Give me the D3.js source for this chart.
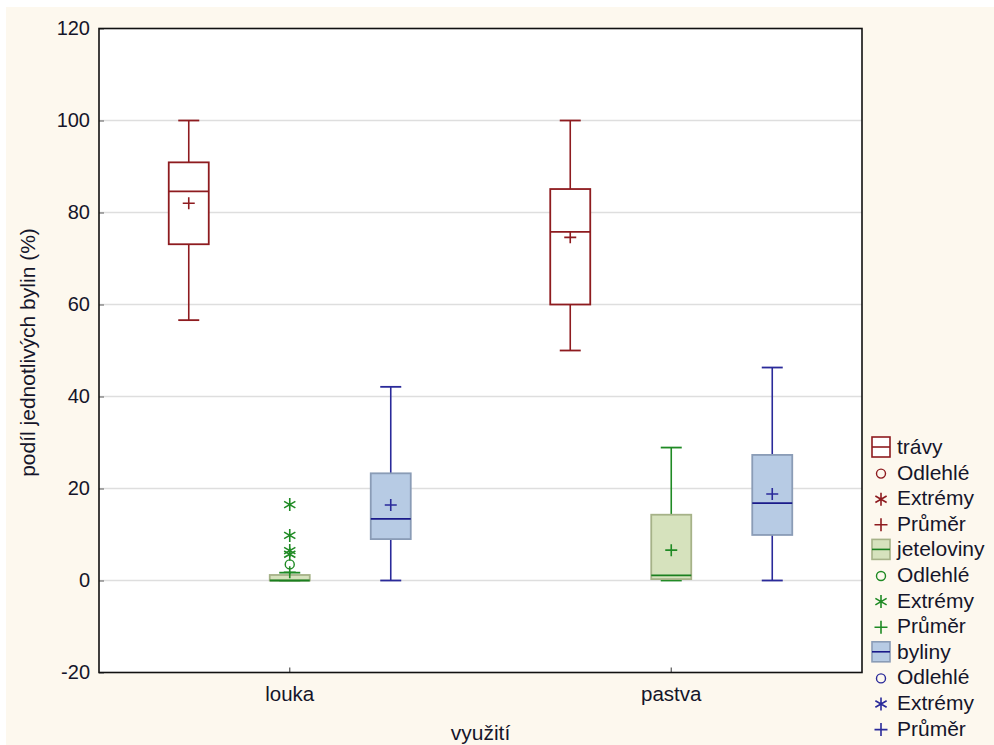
<!DOCTYPE html>
<html>
<head>
<meta charset="utf-8">
<script src="https://cdn.jsdelivr.net/npm/d3@7"></script>
<style>
  html, body { margin: 0; padding: 0; background: #ffffff; }
  svg { display: block; }
  text { font-family: "Liberation Sans", Arial, sans-serif; fill: #15152a; }
</style>
</head>
<body>
<svg id="chart" width="994" height="745"></svg>
<script>
// Land use categories and plant groups
const categories = ["louka", "pastva"];
const series = ["trávy", "jeteloviny", "byliny"];

// Box statistics, one row per plant group, one value per category (louka, pastva)
const whiskerLow  = [[56.6, 50.0], [0.0, 0.0], [0.0, 0.0]];
const quartile1   = [[73.1, 60.0], [0.0, 0.3], [9.0, 9.9]];
const medians     = [[84.6, 75.8], [0.0, 1.1], [13.4, 16.8]];
const quartile3   = [[90.9, 85.1], [1.2, 14.3], [23.3, 27.3]];
const whiskerHigh = [[100.0, 100.0], [1.7, 28.9], [42.1, 46.3]];
const means       = [[82.0, 74.6], [1.8, 6.6], [16.4, 18.8]];
const outliers    = [[[], []], [[3.5], []], [[], []]];
const extremes    = [[[], []], [[16.5, 9.8, 6.5, 5.7], []], [[], []]];

const yTicks = [-20, 0, 20, 40, 60, 80, 100, 120];
const legendLabels = ["Odlehlé", "Extrémy", "Průměr"];
const xTitle = "využití";
const yTitle = "podíl jednotlivých bylin (%)";

// Colours per plant group
const lineColor   = ["#8e1b1f", "#1f8a24", "#2a2a9a"];
const medianColor = ["#8e1b1f", "#1a7f1f", "#1a1a8a"];
const boxFill     = ["#ffffff", "#d6e2bd", "#b7cbe4"];
const boxStroke   = ["#8e1b1f", "#a6b288", "#8a9cb6"];

const svg = d3.select("#chart");
const W = 994, H = 745;
const plot = { left: 99, top: 28.5, right: 862, bottom: 672.5 };

// Page background
svg.append("rect").attr("width", W).attr("height", H).attr("fill", "#ffffff");
svg.append("rect").attr("x", 6).attr("y", 7).attr("width", W - 6).attr("height", H - 7).attr("fill", "#fdf8ee");
svg.append("rect").attr("x", plot.left).attr("y", plot.top)
  .attr("width", plot.right - plot.left).attr("height", plot.bottom - plot.top)
  .attr("fill", "#ffffff");

const y = d3.scaleLinear().domain([-20, 120]).range([plot.bottom, plot.top]);
const x = d3.scaleBand().domain(categories).range([plot.left, plot.right]).padding(0);
const bw = x.bandwidth();
const xs = d3.scalePoint().domain(series).range([bw / 2 - 101, bw / 2 + 101]);

// Horizontal grid
svg.append("g").selectAll("line")
  .data(yTicks.filter(t => t > -20 && t < 120))
  .join("line")
  .attr("x1", plot.left).attr("x2", plot.right)
  .attr("y1", d => y(d)).attr("y2", d => y(d))
  .attr("stroke", "#dedede").attr("stroke-width", 1.5);

// Y axis
const yAxis = svg.append("g").attr("transform", `translate(${plot.left},0)`)
  .call(d3.axisLeft(y).tickValues(yTicks).tickSize(-5).tickPadding(9).tickFormat(d => String(d)));
yAxis.select(".domain").remove();
yAxis.selectAll(".tick line").attr("stroke", "#777").attr("stroke-width", 1.2);
yAxis.selectAll(".tick text").style("font-size", "20px").attr("fill", "#15152a")
  .style("font-family", "'Liberation Sans', Arial, sans-serif");

// X axis
const xAxis = svg.append("g").attr("transform", `translate(0,${plot.bottom})`)
  .call(d3.axisBottom(x).tickSize(-5).tickPadding(14));
xAxis.select(".domain").remove();
xAxis.selectAll(".tick line").attr("stroke", "#555").attr("stroke-width", 1.2);
xAxis.selectAll(".tick text").style("font-size", "20.5px").attr("fill", "#15152a")
  .style("font-family", "'Liberation Sans', Arial, sans-serif");

// Frame
svg.append("rect").attr("x", plot.left).attr("y", plot.top)
  .attr("width", plot.right - plot.left).attr("height", plot.bottom - plot.top)
  .attr("fill", "none").attr("stroke", "#111").attr("stroke-width", 1.6);

// Symbol builders
function plusPath(cx, cy, r) {
  return `M${cx - r},${cy}H${cx + r}M${cx},${cy - r}V${cy + r}`;
}
function starPath(cx, cy, r) {
  const a = r * Math.cos(Math.PI / 6), b = r * Math.sin(Math.PI / 6);
  return `M${cx},${cy - r}V${cy + r}M${cx - a},${cy - b}L${cx + a},${cy + b}M${cx - a},${cy + b}L${cx + a},${cy - b}`;
}

// Box plots
const boxW = 40, capW = 21;
series.forEach((s, si) => {
  categories.forEach((c, ci) => {
    const cx = x(c) + xs(s);
    const g = svg.append("g");
    const col = lineColor[si];
    // whiskers
    g.append("line").attr("x1", cx).attr("x2", cx)
      .attr("y1", y(whiskerHigh[si][ci])).attr("y2", y(quartile3[si][ci]))
      .attr("stroke", col).attr("stroke-width", 1.6);
    g.append("line").attr("x1", cx).attr("x2", cx)
      .attr("y1", y(quartile1[si][ci])).attr("y2", y(whiskerLow[si][ci]))
      .attr("stroke", col).attr("stroke-width", 1.6);
    [whiskerHigh[si][ci], whiskerLow[si][ci]].forEach(v => {
      g.append("line").attr("x1", cx - capW / 2).attr("x2", cx + capW / 2)
        .attr("y1", y(v)).attr("y2", y(v))
        .attr("stroke", col).attr("stroke-width", 1.8);
    });
    // box
    g.append("rect").attr("x", cx - boxW / 2).attr("y", y(quartile3[si][ci]))
      .attr("width", boxW).attr("height", Math.max(1, y(quartile1[si][ci]) - y(quartile3[si][ci])))
      .attr("fill", boxFill[si]).attr("stroke", boxStroke[si]).attr("stroke-width", 1.8);
    // median
    g.append("line").attr("x1", cx - boxW / 2).attr("x2", cx + boxW / 2)
      .attr("y1", y(medians[si][ci])).attr("y2", y(medians[si][ci]))
      .attr("stroke", medianColor[si]).attr("stroke-width", 1.8);
    // mean
    g.append("path").attr("d", plusPath(cx, y(means[si][ci]), 6))
      .attr("stroke", col).attr("stroke-width", 1.6).attr("fill", "none");
    // outliers
    outliers[si][ci].forEach(v => {
      g.append("circle").attr("cx", cx).attr("cy", y(v)).attr("r", 4.5)
        .attr("fill", "none").attr("stroke", col).attr("stroke-width", 1.4);
    });
    // extremes
    extremes[si][ci].forEach(v => {
      g.append("path").attr("d", starPath(cx, y(v), 6.5))
        .attr("stroke", col).attr("stroke-width", 1.6).attr("fill", "none");
    });
  });
});

// Axis titles
svg.append("text").attr("x", (plot.left + plot.right) / 2).attr("y", 740)
  .attr("text-anchor", "middle").style("font-size", "21px").text(xTitle);
svg.append("text").attr("transform", `translate(35,${(plot.top + plot.bottom) / 2 + 2}) rotate(-90)`)
  .attr("text-anchor", "middle").style("font-size", "21px").text(yTitle);

// Legend
const legX = 881, legY0 = 447, legStep = 25.6;
const leg = svg.append("g");
series.forEach((s, si) => {
  const col = lineColor[si];
  const rows = [s].concat(legendLabels);
  rows.forEach((label, ri) => {
    const cy = legY0 + (si * 4 + ri) * legStep;
    if (ri === 0) {
      leg.append("rect").attr("x", legX - 9).attr("y", cy - 10).attr("width", 18).attr("height", 20)
        .attr("fill", boxFill[si]).attr("stroke", boxStroke[si]).attr("stroke-width", 1.6);
      leg.append("line").attr("x1", legX - 9).attr("x2", legX + 9).attr("y1", cy).attr("y2", cy)
        .attr("stroke", medianColor[si]).attr("stroke-width", 1.6);
    } else if (ri === 1) {
      leg.append("circle").attr("cx", legX).attr("cy", cy + 1).attr("r", 4.5)
        .attr("fill", "none").attr("stroke", col).attr("stroke-width", 1.4);
    } else if (ri === 2) {
      leg.append("path").attr("d", starPath(legX, cy + 1, 6.5))
        .attr("stroke", col).attr("stroke-width", 1.6).attr("fill", "none");
    } else {
      leg.append("path").attr("d", plusPath(legX, cy + 1, 6.5))
        .attr("stroke", col).attr("stroke-width", 1.6).attr("fill", "none");
    }
    leg.append("text").attr("x", legX + 16).attr("y", cy + 7)
      .style("font-size", "21px").text(label);
  });
});
</script>
</body>
</html>
